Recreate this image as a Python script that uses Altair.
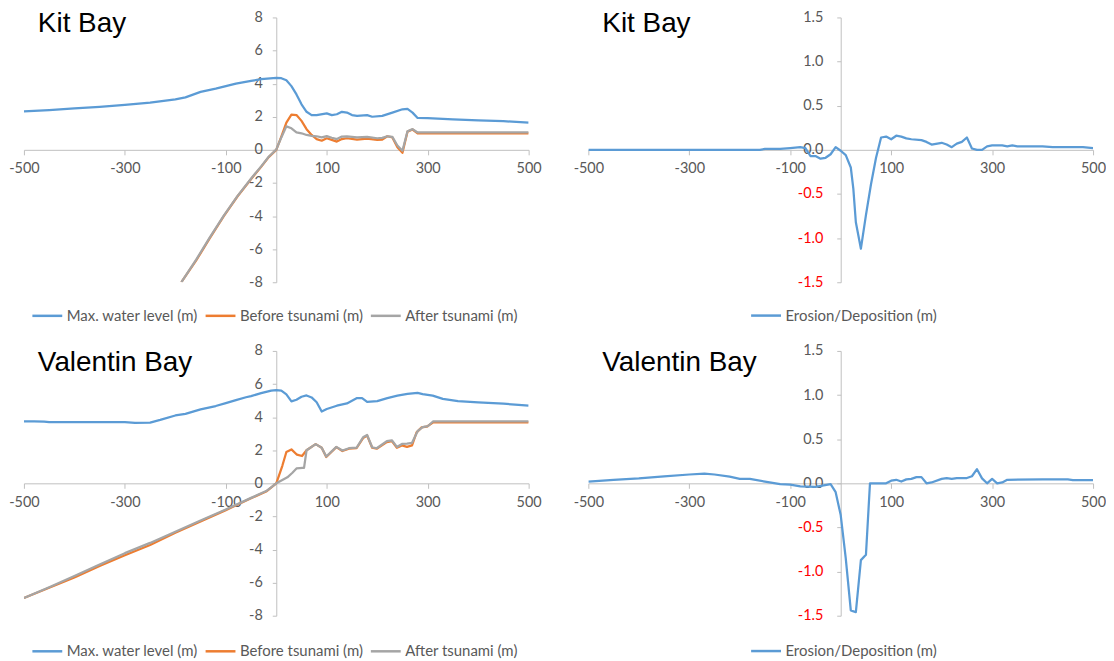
import altair as alt
import pandas as pd

# ---------------- data ----------------
panel_titles = ["Kit Bay", "Kit Bay", "Valentin Bay", "Valentin Bay"]
series_names = ["Max. water level (m)", "Before tsunami (m)", "After tsunami (m)"]
erosion_name = "Erosion/Deposition (m)"

x_ticks = [-500, -300, -100, 100, 300, 500]
y_ticks_level = [-8, -6, -4, -2, 0, 2, 4, 6, 8]
y_ticks_erosion = [-1.5, -1.0, -0.5, 0.0, 0.5, 1.0, 1.5]

# Kit Bay
kit_max_x = [-500, -450, -400, -350, -300, -250, -200, -180, -150, -120, -100, -80, -50, -30, 0, 10, 20, 30, 40, 50,
             60, 70, 80, 100, 110, 120, 130, 140, 150, 160, 180, 190, 210, 230, 250, 260, 270, 280, 300, 350, 400, 450, 500]
kit_max_y = [2.32, 2.4, 2.5, 2.6, 2.71, 2.85, 3.05, 3.17, 3.5, 3.7, 3.85, 4.0, 4.17, 4.27, 4.35, 4.33, 4.2, 3.85, 3.35, 2.75,
             2.3, 2.1, 2.1, 2.2, 2.1, 2.15, 2.3, 2.25, 2.1, 2.05, 2.1, 2.0, 2.05, 2.25, 2.45, 2.47, 2.25, 1.93, 1.92, 1.84, 1.78, 1.73, 1.64]

kit_bed_x = [-188, -159, -132, -104, -77, -49, -30, -15, 0, 10, 20, 30, 40, 50, 60, 70, 80, 90, 100, 110, 120, 130, 140,
             160, 180, 200, 210, 220, 230, 240, 250, 260, 270, 280, 300, 400, 500]
kit_before_y = [-8.0, -6.7, -5.35, -4.0, -2.82, -1.73, -1.03, -0.44, 0.0, 0.8, 1.65, 2.13, 2.1, 1.75, 1.25, 0.9, 0.65, 0.55,
                0.7, 0.6, 0.5, 0.65, 0.7, 0.62, 0.68, 0.6, 0.62, 0.82, 0.75, 0.15, -0.18, 1.1, 1.23, 1.0, 1.0, 1.0, 1.0]
kit_after_y = [-8.0, -6.65, -5.3, -3.97, -2.8, -1.7, -1.0, -0.42, 0.02, 0.75, 1.42, 1.3, 1.05, 1.0, 0.9, 0.85, 0.82, 0.75,
               0.83, 0.73, 0.65, 0.8, 0.82, 0.75, 0.78, 0.7, 0.72, 0.82, 0.78, 0.26, -0.05, 1.12, 1.25, 1.05, 1.05, 1.05, 1.05]

kit_ero_x = [-500, -160, -150, -120, -100, -80, -70, -60, -50, -40, -30, -20, -10, 0, 10, 20, 25, 30, 40, 50, 60, 70, 80,
             90, 100, 110, 120, 130, 140, 160, 170, 180, 200, 210, 220, 230, 240, 250, 260, 270, 280, 290, 300, 320, 330,
             340, 350, 400, 420, 480, 500]
kit_ero_y = [0.0, 0.0, 0.01, 0.01, 0.02, 0.03, 0.02, -0.07, -0.07, -0.1, -0.09, -0.05, 0.03, -0.01, -0.06, -0.2, -0.44,
             -0.82, -1.12, -0.74, -0.39, -0.09, 0.14, 0.15, 0.12, 0.16, 0.15, 0.13, 0.12, 0.11, 0.09, 0.06, 0.08, 0.06,
             0.03, 0.07, 0.09, 0.14, 0.015, 0.0, 0.0, 0.04, 0.05, 0.05, 0.04, 0.05, 0.04, 0.04, 0.03, 0.03, 0.02]

# Valentin Bay
val_max_x = [-500, -480, -460, -450, -400, -350, -300, -280, -250, -230, -200, -180, -150, -120, -100, -80, -60, -50, -30,
             -10, 0, 10, 20, 30, 40, 50, 60, 70, 80, 90, 100, 120, 140, 160, 170, 180, 200, 220, 240, 260, 280, 290, 310,
             330, 360, 400, 450, 480, 500]
val_max_y = [3.75, 3.74, 3.73, 3.7, 3.7, 3.7, 3.7, 3.65, 3.67, 3.83, 4.1, 4.2, 4.47, 4.67, 4.85, 5.03, 5.2, 5.27, 5.45,
             5.6, 5.63, 5.6, 5.37, 4.95, 5.05, 5.23, 5.31, 5.19, 4.9, 4.34, 4.49, 4.69, 4.83, 5.15, 5.15, 4.92, 4.97, 5.15,
             5.3, 5.4, 5.47, 5.39, 5.3, 5.1, 4.97, 4.89, 4.81, 4.74, 4.69]

val_before_x = [-500, -450, -400, -350, -300, -250, -200, -150, -100, -50, -20, 0, 12, 20, 30, 41, 51, 60, 78, 90, 99,
                119, 131, 144, 159, 172, 180, 190, 199, 219, 229, 239, 249, 259, 269, 278, 288, 298, 311, 400, 500]
val_before_y = [-6.93, -6.31, -5.69, -4.99, -4.35, -3.73, -2.99, -2.3, -1.62, -0.9, -0.5, 0.0, 1.06, 1.89, 2.05, 1.73,
                1.65, 2.0, 2.37, 2.15, 1.59, 2.19, 1.95, 2.09, 2.12, 2.73, 2.88, 2.15, 2.09, 2.49, 2.55, 2.15, 2.29, 2.2,
                2.29, 3.08, 3.38, 3.42, 3.68, 3.68, 3.68]

val_after_x = [-500, -450, -400, -350, -300, -250, -200, -150, -100, -50, -20, 0, 12, 22, 32, 40, 52, 55, 60, 78, 90, 99,
               119, 131, 144, 159, 172, 180, 190, 199, 219, 229, 239, 249, 259, 269, 280, 290, 300, 311, 400, 500]
val_after_y = [-6.93, -6.28, -5.6, -4.9, -4.22, -3.6, -2.93, -2.25, -1.58, -0.88, -0.47, 0.0, 0.2, 0.36, 0.64, 0.9, 0.93,
               0.93, 2.0, 2.37, 2.15, 1.62, 2.2, 1.98, 2.12, 2.15, 2.78, 2.92, 2.18, 2.12, 2.55, 2.6, 2.2, 2.38, 2.4,
               2.45, 3.15, 3.4, 3.45, 3.75, 3.75, 3.75]

val_ero_x = [-500, -450, -400, -350, -300, -270, -250, -220, -200, -180, -150, -120, -100, -80, -50, -20, -10, 0, 10, 20,
             30, 40, 50, 58, 60, 90, 100, 110, 120, 130, 140, 150, 160, 170, 180, 200, 210, 220, 230, 250, 260, 270, 280,
             290, 300, 310, 320, 330, 400, 450, 460, 500]
val_ero_y = [0.02, 0.04, 0.056, 0.08, 0.1, 0.11, 0.1, 0.075, 0.05, 0.05, 0.02, -0.01, -0.015, -0.035, -0.04, -0.01, -0.1,
             -0.36, -0.85, -1.44, -1.46, -0.87, -0.81, 0.0, 0.0, 0.0, 0.03, 0.04, 0.02, 0.045, 0.05, 0.07, 0.07, 0.0,
             0.01, 0.05, 0.06, 0.05, 0.06, 0.06, 0.08, 0.16, 0.056, 0.0, 0.05, 0.0, 0.01, 0.04, 0.045, 0.045, 0.037,
             0.037]

# ---------------- styling ----------------
W, H = 507, 266
COLORS = ["#5B9BD5", "#ED7D31", "#A5A5A5"]
AX = "#BFBFBF"
LBL = "#595959"
FONT = "Lato"
FS = 14.5
LEG_FS = 15


def frame(xs, ys, name):
    return pd.DataFrame({"x": xs, "y": ys, "series": name})


def x_axis():
    return alt.Axis(values=x_ticks, labelExpr="'' + datum.value", offset=-H / 2, tickSize=5,
                    labelPadding=7, labelFlush=False, labelOverlap=False, grid=False, title=None,
                    domainColor=AX, tickColor=AX, labelColor=LBL, labelFont=FONT, labelFontSize=FS)


def panel(frames, domain_names, colors, title, title_y, ydom, yvals, erosion, legend_x, legend_y):
    xs = alt.X("x:Q", scale=alt.Scale(domain=[-500, 500], nice=False, zero=False), axis=x_axis())
    if erosion:
        yaxis = alt.Axis(values=yvals,
                         labelExpr="(datum.value < 0 ? '-' : '') + format(abs(datum.value), '.1f')",
                         labelColor={"expr": "datum.value < 0 ? '#FF0000' : '#595959'"},
                         offset=-W / 2, tickSize=4, labelPadding=14, grid=False, title=None,
                         domainColor=AX, tickColor=AX, labelFont=FONT, labelFontSize=FS)
    else:
        yaxis = alt.Axis(values=yvals, labelExpr="'' + datum.value", offset=-W / 2, tickSize=4,
                         labelPadding=10, grid=False, title=None, domainColor=AX, tickColor=AX,
                         labelColor=LBL, labelFont=FONT, labelFontSize=FS)
    ys = alt.Y("y:Q", scale=alt.Scale(domain=ydom, nice=False, zero=False), axis=yaxis)
    color = alt.Color("series:N",
                      scale=alt.Scale(domain=domain_names, range=colors),
                      legend=alt.Legend(orient="none", legendX=legend_x, legendY=legend_y,
                                        direction="horizontal", title=None, symbolType="stroke",
                                        symbolSize=900, symbolStrokeWidth=2.5, labelFont=FONT,
                                        labelFontSize=LEG_FS, labelColor=LBL, labelOffset=3,
                                        columnPadding=2, padding=0))
    layers = []
    for f in frames:
        layers.append(alt.Chart(f).mark_line(strokeWidth=2.25, strokeJoin="round", clip=True)
                      .encode(x=xs, y=ys, color=color))
    ttl = alt.Chart(pd.DataFrame({"label": [title]})).mark_text(
        align="left", baseline="alphabetic", font="Liberation Sans", fontSize=28, color="#000000"
    ).encode(x=alt.value(14), y=alt.value(title_y), text="label:N")
    layers.append(ttl)
    return alt.layer(*layers).properties(width=W, height=H)


p1 = panel([frame(kit_max_x, kit_max_y, series_names[0]),
            frame(kit_bed_x, kit_before_y, series_names[1]),
            frame(kit_bed_x, kit_after_y, series_names[2])],
           series_names, COLORS, panel_titles[0], 15, [-8, 8], y_ticks_level, False, 7, 283)
p2 = panel([frame(kit_ero_x, kit_ero_y, erosion_name)], [erosion_name], [COLORS[0]],
           panel_titles[1], 15, [-1.5, 1.5], y_ticks_erosion, True, 162, 283)
p3 = panel([frame(val_max_x, val_max_y, series_names[0]),
            frame(val_before_x, val_before_y, series_names[1]),
            frame(val_after_x, val_after_y, series_names[2])],
           series_names, COLORS, panel_titles[2], 20.5, [-8, 8], y_ticks_level, False, 7, 285)
p4 = panel([frame(val_ero_x, val_ero_y, erosion_name)], [erosion_name], [COLORS[0]],
           panel_titles[3], 20.5, [-1.5, 1.5], y_ticks_erosion, True, 162, 285)

chart = (alt.concat(p1, p2, p3, p4, columns=2, spacing={"row": 69, "column": 60}, bounds="flush")
         .resolve_scale(color="independent").resolve_legend(color="independent")
         .properties(padding=0, background="white")
         .configure_view(stroke=None))

chart.save("out.html", embed_options={"renderer": "svg", "actions": False})
